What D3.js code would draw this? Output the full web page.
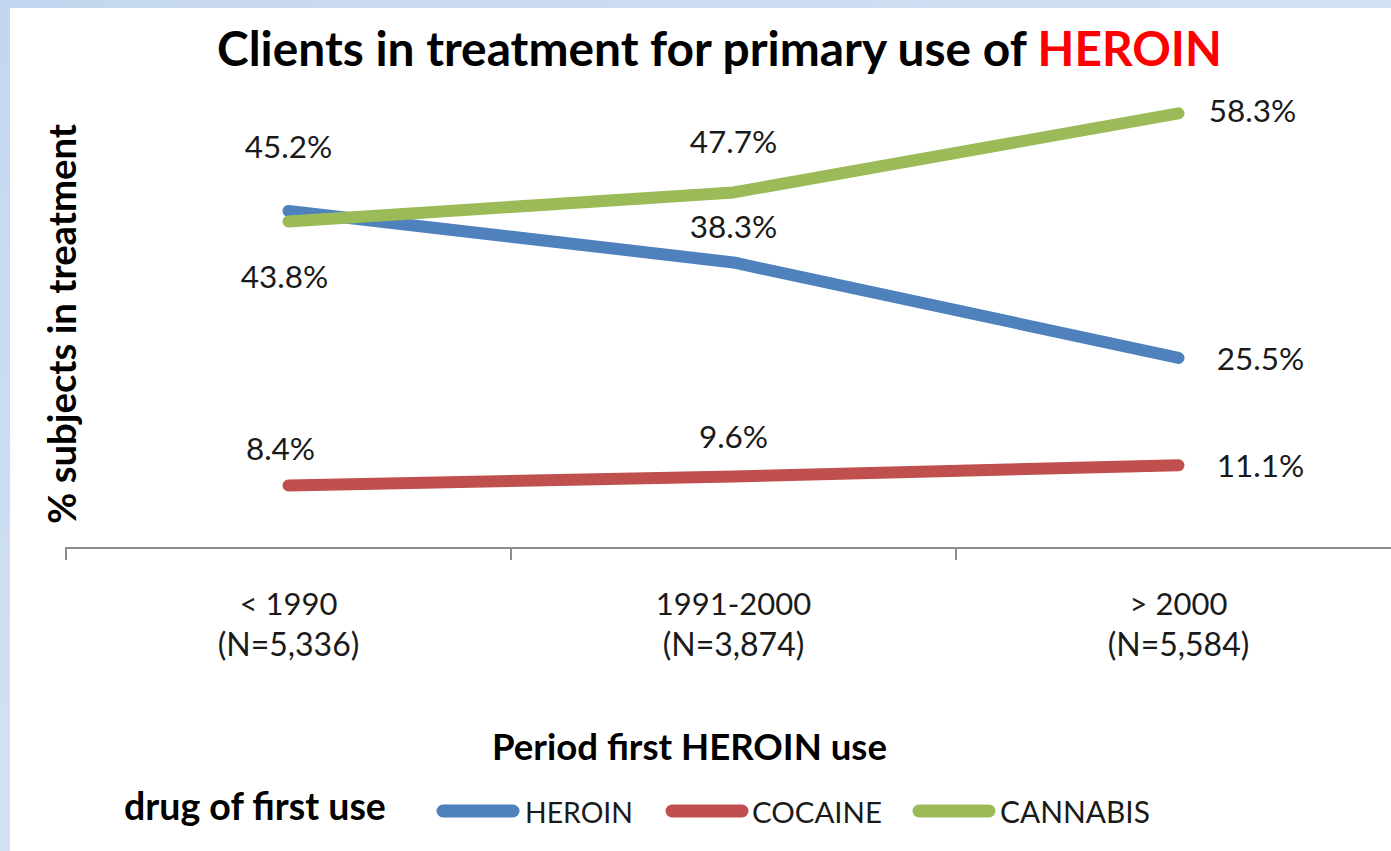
<!DOCTYPE html>
<html>
<head>
<meta charset="utf-8">
<script src="https://cdn.jsdelivr.net/npm/d3@7"></script>
<style>
  html, body { margin: 0; padding: 0; }
  body { width: 1391px; height: 851px; overflow: hidden; background: #c9d9f0; }
  svg { display: block; }
</style>
</head>
<body>
<svg id="chart" width="1391" height="851"></svg>
<script>
// ---- data ----
const categories = ["< 1990", "1991-2000", "> 2000"];
const sampleSizes = ["(N=5,336)", "(N=3,874)", "(N=5,584)"];
const seriesNames = ["HEROIN", "COCAINE", "CANNABIS"];
const heroinValues = [45.2, 38.3, 25.5];
const cocaineValues = [8.4, 9.6, 11.1];
const cannabisValues = [43.8, 47.7, 58.3];
const titleText = "Clients in treatment for primary use of ";
const titleHighlight = "HEROIN";
const yAxisTitle = "% subjects in treatment";
const xAxisTitle = "Period first HEROIN use";
const legendTitle = "drug of first use";

// ---- setup ----
const W = 1391, H = 851;
const svg = d3.select("#chart");
const FONT = "Lato, 'Open Sans', sans-serif";
const colors = { HEROIN: "#4f81bd", COCAINE: "#c0504d", CANNABIS: "#9bbb59" };

// background
const defs = svg.append("defs");
const grad = defs.append("linearGradient").attr("id", "bg").attr("x1", 0).attr("y1", 0).attr("x2", 1).attr("y2", 1);
grad.append("stop").attr("offset", "0%").attr("stop-color", "#c4d6ef");
grad.append("stop").attr("offset", "50%").attr("stop-color", "#d3e1f4");
grad.append("stop").attr("offset", "100%").attr("stop-color", "#c2d4ee");
svg.append("rect").attr("width", W).attr("height", H).attr("fill", "url(#bg)");
svg.append("rect").attr("x", 10).attr("y", 8).attr("width", W - 10).attr("height", H - 8).attr("fill", "#ffffff");

// scales
const x = d3.scaleBand().domain(categories).range([66, 1401]).paddingInner(0).paddingOuter(0);
const y = d3.scaleLinear().domain([0, 70]).range([548, 548 - 7.455 * 70]);

// axis
const xAxis = d3.axisBottom(x).tickSize(0).tickFormat("");
const gx = svg.append("g").attr("transform", "translate(0,548)").call(xAxis);
gx.select(".domain").attr("stroke", "#8c8c8c").attr("stroke-width", 2).attr("d", "M66,12V0H1401");
const boundaries = categories.map(c => x(c)).concat([x(categories[categories.length - 1]) + x.bandwidth()]);
gx.selectAll("line.bound").data(boundaries).enter().append("line")
  .attr("class", "bound")
  .attr("x1", d => d).attr("x2", d => d).attr("y1", 0).attr("y2", 12)
  .attr("stroke", "#8c8c8c").attr("stroke-width", 2);

// category labels
const cx = c => x(c) + x.bandwidth() / 2;
svg.append("g").selectAll("text").data(categories).enter().append("text")
  .attr("x", d => cx(d)).attr("y", 615)
  .attr("text-anchor", "middle").attr("font-family", FONT).attr("font-size", 31)
  .attr("fill", "#1a1a1a").text(d => d);
svg.append("g").selectAll("text").data(sampleSizes).enter().append("text")
  .attr("x", (d, i) => cx(categories[i])).attr("y", 656)
  .attr("text-anchor", "middle").attr("font-family", FONT).attr("font-size", 32)
  .attr("fill", "#1a1a1a").text(d => d);

function fitWidth(sel, target) {
  const node = sel.node();
  const fs = parseFloat(sel.attr("font-size"));
  const w = node.getComputedTextLength();
  if (w > 0) sel.attr("font-size", (fs * target / w).toFixed(2));
}

// title
const title = svg.append("text").attr("x", 719.5).attr("y", 66)
  .attr("text-anchor", "middle").attr("font-family", FONT).attr("font-weight", "bold")
  .attr("font-size", 42).attr("fill", "#000");
title.append("tspan").text(titleText);
title.append("tspan").attr("fill", "#ff0000").text(titleHighlight);
fitWidth(title, 1005);

// y axis title
const yt = svg.append("text").attr("transform", "translate(76,324) rotate(-90)")
  .attr("text-anchor", "middle").attr("font-family", FONT).attr("font-weight", "bold")
  .attr("font-size", 32).attr("fill", "#000").text(yAxisTitle);
fitWidth(yt, 400);

// x axis title
const xt = svg.append("text").attr("x", 689.5).attr("y", 760)
  .attr("text-anchor", "middle").attr("font-family", FONT).attr("font-weight", "bold")
  .attr("font-size", 32).attr("fill", "#000").text(xAxisTitle);
fitWidth(xt, 395);

// lines
const series = [
  { name: "HEROIN", values: heroinValues },
  { name: "COCAINE", values: cocaineValues },
  { name: "CANNABIS", values: cannabisValues }
];
const line = d3.line().x((d, i) => cx(categories[i])).y(d => y(d));
svg.append("g").selectAll("path").data(series).enter().append("path")
  .attr("d", d => line(d.values))
  .attr("fill", "none").attr("stroke", d => colors[d.name])
  .attr("stroke-width", 12).attr("stroke-linecap", "round").attr("stroke-linejoin", "round");

// data labels: placement rule per series/point (offsets from the point)
const labelPlacement = {
  HEROIN:   [[0, -53], [0, -24], [82, 12]],
  COCAINE:  [[-8, -25], [0, -28], [82, 12]],
  CANNABIS: [[-4, 67], [0, -39], [74, 9]]
};
const labels = [];
series.forEach(s => s.values.forEach((v, i) => {
  labels.push({ name: s.name, v, i });
}));
svg.append("g").selectAll("text").data(labels).enter().append("text")
  .attr("x", d => cx(categories[d.i]) + labelPlacement[d.name][d.i][0])
  .attr("y", d => y(d.v) + labelPlacement[d.name][d.i][1])
  .attr("text-anchor", "middle").attr("font-family", FONT).attr("font-size", 31.5)
  .attr("fill", "#1a1a1a").text(d => d.v.toFixed(1) + "%");

// legend
const lt = svg.append("text").attr("x", 124).attr("y", 820)
  .attr("font-family", FONT).attr("font-weight", "bold").attr("font-size", 32)
  .attr("fill", "#000").text(legendTitle);
fitWidth(lt, 262);

const legendX = [443, 672, 919];
const legendTextX = [525, 752, 1000];
const legendTextW = [108, 130, 150];
const lg = svg.append("g").selectAll("g").data(seriesNames).enter().append("g");
lg.append("line")
  .attr("x1", (d, i) => legendX[i]).attr("x2", (d, i) => legendX[i] + 70)
  .attr("y1", 811).attr("y2", 811)
  .attr("stroke", d => colors[d]).attr("stroke-width", 13).attr("stroke-linecap", "round");
lg.append("text")
  .attr("x", (d, i) => legendTextX[i]).attr("y", 823)
  .attr("font-family", FONT).attr("font-size", 30).attr("fill", "#1a1a1a")
  .text(d => d)
  .each(function (d, i) { fitWidth(d3.select(this), legendTextW[i]); });
</script>
</body>
</html>
